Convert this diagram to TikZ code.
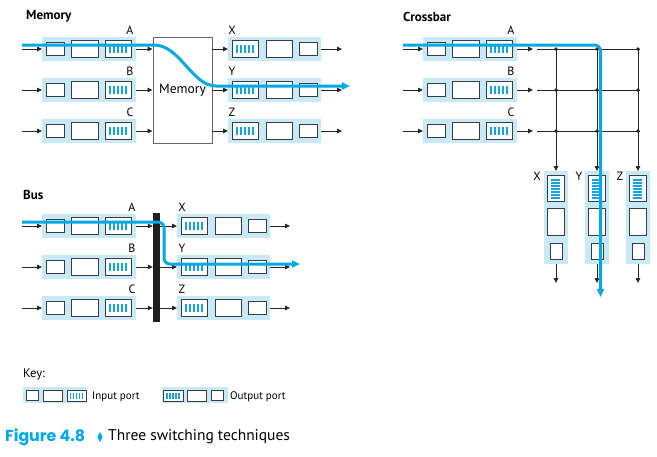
\documentclass[tikz,border=0pt]{standalone}
\usepackage{fontspec}
\setmainfont{PT Sans}
\newfontfamily\figfont{Poppins}
\usetikzlibrary{arrows.meta}
\definecolor{portbg}{RGB}{200,233,247}
\definecolor{flow}{RGB}{0,168,230}
\definecolor{stripe}{RGB}{20,165,225}
\definecolor{boxline}{RGB}{60,60,60}
\tikzset{
  bgbox/.style={fill=portbg, draw=none, inner sep=0pt, outer sep=0pt},
  ibox/.style={draw=boxline, line width=0.9pt, fill=white, inner sep=0pt, outer sep=0pt},
  arr/.style={-{Triangle[length=5pt,width=4.5pt]}, line width=0.8pt, black!85},
  gridline/.style={line width=0.8pt, black!85},
  flowline/.style={draw=flow, line width=3pt, -{Triangle[length=8pt,width=7pt]}, rounded corners=6pt},
  portlabel/.style={font=\fontsize{12}{13}\selectfont, inner sep=0pt},
  sectitle/.style={font=\fontsize{13}{15}\selectfont\bfseries, inner sep=0pt, anchor=west},
  keytext/.style={font=\fontsize{11}{13}\selectfont, inner sep=0pt, anchor=west},
  stripefill/.style={fill=stripe},
}
\newcommand\InPort[3]{%
  \node[bgbox, minimum width=94, minimum height=24] (#1) at ({#2+47},#3) {};
  \node[ibox, minimum width=18, minimum height=13] (#1s) at ({#2+13},#3) {};
  \node[ibox, minimum width=27, minimum height=17] (#1m) at ({#2+42.5},#3) {};
  \node[ibox, minimum width=26, minimum height=17] (#1q) at ({#2+76},#3) {};
  \foreach \k in {-2,...,2} \fill[stripefill] ({#2+76+\k*4-0.75},{#3-4}) rectangle +(1.5,8);
}
\newcommand\OutPort[3]{%
  \node[bgbox, minimum width=93, minimum height=24] (#1) at ({#2+46.5},#3) {};
  \node[ibox, minimum width=26, minimum height=17] (#1q) at ({#2+17},#3) {};
  \node[ibox, minimum width=26, minimum height=17] (#1m) at ({#2+51},#3) {};
  \node[ibox, minimum width=18, minimum height=13] (#1s) at ({#2+80},#3) {};
  \foreach \k in {-2,...,2} \fill[stripefill] ({#2+17+\k*4-0.75},{#3-4}) rectangle +(1.5,8);
}
\newcommand\OutCol[3]{%
  \node[bgbox, minimum width=24, minimum height=93] (#1) at (#2,{#3+46.5}) {};
  \node[ibox, minimum width=17, minimum height=26] (#1q) at ({#2-0.5},{#3+17}) {};
  \node[ibox, minimum width=17, minimum height=27] (#1m) at ({#2-0.5},{#3+50.5}) {};
  \node[ibox, minimum width=12, minimum height=16] (#1s) at (#2,{#3+80}) {};
  \foreach \k in {0,...,6} \fill[stripefill] ({#2-5},{#3+8.4+\k*3}) rectangle +(9,1.3);
}
\begin{document}
\begin{tikzpicture}[x=1pt,y=-1pt]
\useasboundingbox (0,0) rectangle (657,456);
\fill[white] (0,0) rectangle (657,456);

% ---------------- Memory ----------------
\node[sectitle] (tmem) at (26,16) {Memory};
\InPort{mA}{42}{49}
\InPort{mB}{42}{90}
\InPort{mC}{42}{131}
\node[draw=black!60, line width=0.9pt, fill=white, minimum width=59, minimum height=106,
      inner sep=0pt, font=\fontsize{13.5}{15}\selectfont] (mem) at (182.5,90) {Memory};
\OutPort{mX}{228}{49}
\OutPort{mY}{228}{90}
\OutPort{mZ}{228}{131}
\node[portlabel] (lmA) at (130,30) {A};
\node[portlabel] (lmB) at (130,71) {B};
\node[portlabel] (lmC) at (130,112) {C};
\node[portlabel] (lmX) at (232,30) {X};
\node[portlabel] (lmY) at (232,71) {Y};
\node[portlabel] (lmZ) at (232,112) {Z};
\foreach \r/\y in {A/49,B/90,C/131}{
  \coordinate (mi\r) at (22,\y);
  \draw[arr] (mi\r) -- (m\r.west);
  \draw[arr] (m\r.east) -- (mem.west |- m\r.east);
}
\foreach \r/\y in {X/49,Y/90,Z/131}{
  \coordinate (mo\r) at (342,\y);
  \draw[arr] (mem.east |- m\r.west) -- (m\r.west);
  \draw[arr] (m\r.east) -- (mo\r);
}

% ---------------- Crossbar ----------------
\node[sectitle] (tcross) at (403,17) {Crossbar};
\InPort{cA}{423}{49}
\InPort{cB}{423}{90}
\InPort{cC}{423}{131}
\node[portlabel] (lcA) at (511,30) {A};
\node[portlabel] (lcB) at (511,71) {B};
\node[portlabel] (lcC) at (511,112) {C};
\OutCol{cX}{556}{171}
\OutCol{cY}{597}{171}
\OutCol{cZ}{638}{171}
\node[portlabel] (lcX) at (537,176) {X};
\node[portlabel] (lcY) at (579,176) {Y};
\node[portlabel] (lcZ) at (620,176) {Z};
\foreach \r/\y in {A/49,B/90,C/131}{
  \coordinate (ci\r) at (403,\y);
  \coordinate (cg\r) at (533,\y);
  \coordinate (cs\r) at (537,\y);
  \coordinate (ce\r) at (640,\y);
  \draw[arr] (ci\r) -- (c\r.west);
  \draw[arr] (c\r.east) -- (cg\r);
  \draw[gridline] (cs\r) -- (ce\r);
}
\foreach \c/\x in {X/556,Y/597,Z/638}{
  \coordinate (ct\c) at (\x,49);
  \coordinate (cb\c) at (\x,283);
  \draw[arr] (ct\c) -- (c\c.north);
  \draw[arr] (c\c.south) -- (cb\c);
  \foreach \y in {49,90,131} \fill[black!85] (\x,\y) circle (1.9);
}

% ---------------- Bus ----------------
\node[sectitle] (tbus) at (23,195) {Bus};
\InPort{bA}{42}{226}
\InPort{bB}{42}{267}
\InPort{bC}{42}{308}
\node[fill=black!88, minimum width=7, minimum height=109, inner sep=0pt] (bus) at (156.5,267.5) {};
\OutPort{bX}{177}{226}
\OutPort{bY}{177}{267}
\OutPort{bZ}{177}{308}
\node[portlabel] (lbA) at (132,207) {A};
\node[portlabel] (lbB) at (132,248) {B};
\node[portlabel] (lbC) at (132,289) {C};
\node[portlabel] (lbX) at (182,207) {X};
\node[portlabel] (lbY) at (182,248) {Y};
\node[portlabel] (lbZ) at (182,289) {Z};
\foreach \r/\y in {A/226,B/267,C/308}{
  \coordinate (bi\r) at (22,\y);
  \draw[arr] (bi\r) -- (b\r.west);
  \draw[arr] (b\r.east) -- (bus.west |- b\r.east);
}
\foreach \r/\y in {X/226,Y/267,Z/308}{
  \coordinate (bo\r) at (290,\y);
  \draw[arr] (bus.east |- b\r.west) -- (b\r.west);
  \draw[arr] (b\r.east) -- (bo\r);
}

% ---------------- Flows ----------------
\coordinate (fm0) at (22,45);
\coordinate (fm1) at (148,45);
\coordinate (fm2) at (222,86);
\coordinate (fm3) at (350,86);
\draw[flowline] (fm0) -- (fm1) .. controls (180,45) and (192,86) .. (fm2) -- (fm3);
\coordinate (fc0) at (403,45);
\coordinate (fc1) at (600.5,45);
\coordinate (fc2) at (600.5,297);
\draw[flowline] (fc0) -- (fc1) -- (fc2);
\coordinate (fb0) at (22,222);
\coordinate (fb1) at (164,222);
\coordinate (fb2) at (164,264);
\coordinate (fb3) at (300,264);
\draw[flowline] (fb0) -- (fb1) -- (fb2) -- (fb3);

% ---------------- Key ----------------
\node[keytext, font=\fontsize{12.5}{14}\selectfont] (tkey) at (23,374) {Key:};
\node[bgbox, minimum width=64, minimum height=16] (kin) at (55,395) {};
\node[ibox, minimum width=12, minimum height=10] (kin1) at (32,395.5) {};
\node[ibox, minimum width=19, minimum height=11] (kin2) at (52.5,395.5) {};
\node[ibox, minimum width=19, minimum height=11] (kin3) at (76.5,395.5) {};
\foreach \k in {-2,...,2} \fill[stripefill] ({76.5+\k*3-0.6},392.5) rectangle +(1.2,6);
\node[keytext] (kint) at (92,397) {Input port};
\node[bgbox, minimum width=66, minimum height=16] (kout) at (195,395) {};
\node[ibox, minimum width=20, minimum height=11] (kout1) at (173,395.5) {};
\node[ibox, minimum width=19, minimum height=11] (kout2) at (196.5,395.5) {};
\node[ibox, minimum width=12, minimum height=10] (kout3) at (217,395.5) {};
\foreach \k in {-2,...,2} \fill[stripefill] ({173+\k*3-0.6},392.5) rectangle +(1.2,6);
\node[keytext] (koutt) at (230,397) {Output port};

% ---------------- Caption ----------------
\node[anchor=west, inner sep=0pt, text=flow, font=\figfont\bfseries\fontsize{15.8}{18}\selectfont] (cap1) at (5,437) {Figure 4.8};
\fill[flow] (100,432) -- (102.6,437) -- (100,442) -- (97.4,437) -- cycle;
\node[anchor=west, inner sep=0pt, font=\fontsize{15.5}{18}\selectfont] (cap3) at (108,437) {Three switching techniques};
\end{tikzpicture}
\end{document}
